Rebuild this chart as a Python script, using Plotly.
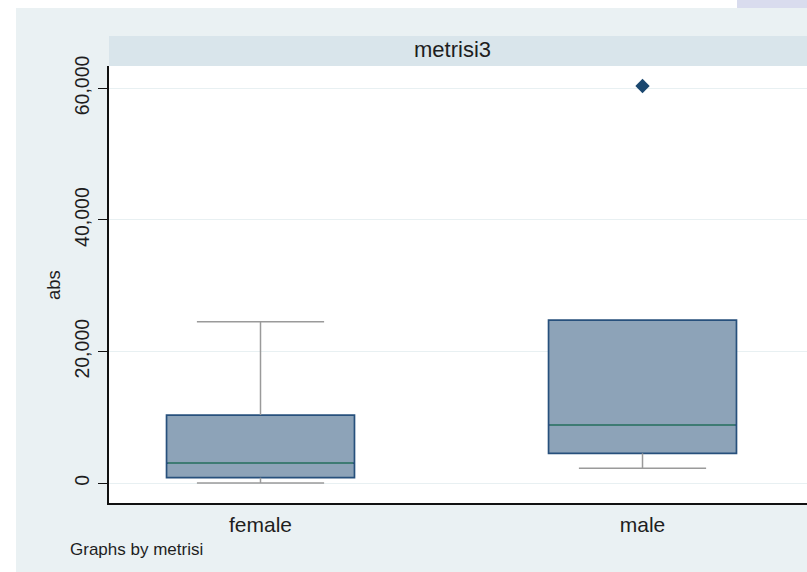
import plotly.graph_objects as go

# ---- data ----
categories = ["female", "male"]
positions = [0, 1]
q1 = [850, 4560]
median = [3080, 8860]
q3 = [10370, 24800]
lower_whisker = [50, 2280]
upper_whisker = [24550, 24800]
outlier_cat = [1]
outlier_val = [60350]
y_ticks = [0, 20000, 40000, 60000]
y_ticklabels = ["0", "20,000", "40,000", "60,000"]

# ---- style ----
BOX_W = 0.492
CAP_W = 0.333
FILL = "#8DA3B8"
EDGE = "#27507C"
MED = "#3E7B73"
WHISK = "#9A9A9A"
OUT = "#1A476F"
BG = "#EAF1F3"
STRIP = "#D9E5EB"
FONT = "Liberation Sans, Arial, sans-serif"
TXT = "#1E1E1E"

W, H = 807, 572
L, R, T, B = 109, 0, 66, 69
pw, ph = W - L - R, H - T - B

def px_x(x):
    return (x - L) / pw

def px_y(y):
    return (H - B - y) / ph

fig = go.Figure()

# whiskers first (drawn beneath boxes where they coincide)
for i, c in enumerate(categories):
    p = positions[i]
    xs, ys = [], []
    if upper_whisker[i] > q3[i]:
        xs += [p, p, None, p - CAP_W / 2, p + CAP_W / 2, None]
        ys += [q3[i], upper_whisker[i], None, upper_whisker[i], upper_whisker[i], None]
    if lower_whisker[i] < q1[i]:
        xs += [p, p, None, p - CAP_W / 2, p + CAP_W / 2, None]
        ys += [lower_whisker[i], q1[i], None, lower_whisker[i], lower_whisker[i], None]
    fig.add_trace(go.Scatter(x=xs, y=ys, mode="lines",
                             line=dict(color=WHISK, width=1.5),
                             showlegend=False, hoverinfo="skip"))

for i, c in enumerate(categories):
    p = positions[i]
    fig.add_trace(go.Box(
        x=[p], q1=[q1[i]], median=[median[i]], q3=[q3[i]],
        lowerfence=[q1[i]], upperfence=[q3[i]],
        width=BOX_W, whiskerwidth=0, boxpoints=False,
        fillcolor=FILL, line=dict(color=EDGE, width=1.7),
        showlegend=False, hoverinfo="skip", name=c,
    ))
    fig.add_trace(go.Scatter(x=[p - BOX_W / 2 + 0.004, p + BOX_W / 2 - 0.004],
                             y=[median[i], median[i]], mode="lines",
                             line=dict(color=MED, width=2),
                             showlegend=False, hoverinfo="skip"))

fig.add_trace(go.Scatter(x=[positions[k] for k in outlier_cat], y=outlier_val,
                         mode="markers",
                         marker=dict(symbol="diamond", size=11, color=OUT),
                         showlegend=False, hoverinfo="skip"))

shapes = [
    dict(type="rect", xref="paper", yref="paper", layer="below",
         x0=px_x(16), x1=px_x(W + 2), y0=px_y(H + 2), y1=px_y(8),
         fillcolor=BG, line=dict(width=0)),
    dict(type="rect", xref="paper", yref="paper", layer="below",
         x0=px_x(737), x1=px_x(W + 2), y0=px_y(8), y1=px_y(-2),
         fillcolor="#D9DCEE", line=dict(width=0)),
    dict(type="rect", xref="paper", yref="paper", layer="below",
         x0=px_x(L), x1=px_x(W + 2), y0=px_y(66), y1=px_y(36),
         fillcolor=STRIP, line=dict(width=0)),
    dict(type="rect", xref="paper", yref="paper", layer="below",
         x0=0, x1=1.01, y0=0, y1=1,
         fillcolor="white", line=dict(width=0)),
]

annotations = [
    dict(text="metrisi3", xref="paper", yref="paper", x=px_x(452), y=px_y(50),
         showarrow=False, font=dict(family=FONT, size=22, color=TXT),
         xanchor="center", yanchor="middle"),
    dict(text="abs", xref="paper", yref="paper", x=px_x(53), y=px_y(285),
         showarrow=False, textangle=-90,
         font=dict(family=FONT, size=18.5, color=TXT),
         xanchor="center", yanchor="middle"),
    dict(text="Graphs by metrisi", xref="paper", yref="paper", x=px_x(68), y=px_y(549),
         showarrow=False, font=dict(family=FONT, size=17, color=TXT),
         xanchor="left", yanchor="middle"),
]

fig.update_layout(
    width=W, height=H,
    margin=dict(l=L, r=R, t=T, b=B, pad=0),
    paper_bgcolor="white", plot_bgcolor="rgba(0,0,0,0)",
    shapes=shapes, annotations=annotations,
    font=dict(family=FONT, color=TXT),
    xaxis=dict(range=[-0.3966, 1.4306], tickvals=positions, ticktext=categories,
               showgrid=False, zeroline=False, showline=True,
               linecolor="#111111", linewidth=1.5,
               ticks="outside", ticklen=2, tickcolor="rgba(0,0,0,0)",
               tickfont=dict(family=FONT, size=21, color=TXT)),
    yaxis=dict(range=[-2990, 63390], tickvals=y_ticks, ticktext=y_ticklabels,
               tickangle=-90, showgrid=True, gridcolor="#E8F0F2", gridwidth=1,
               zeroline=False, showline=True, linecolor="#111111", linewidth=1.5,
               ticks="outside", ticklen=9, tickcolor="#111111", tickwidth=1.2,
               ticklabelstandoff=1,
               tickfont=dict(family=FONT, size=19.5, color=TXT)),
)

fig.write_html("out.html", config={"displayModeBar": False},
               post_script="document.body.style.margin='0px';document.body.style.padding='0px';")
